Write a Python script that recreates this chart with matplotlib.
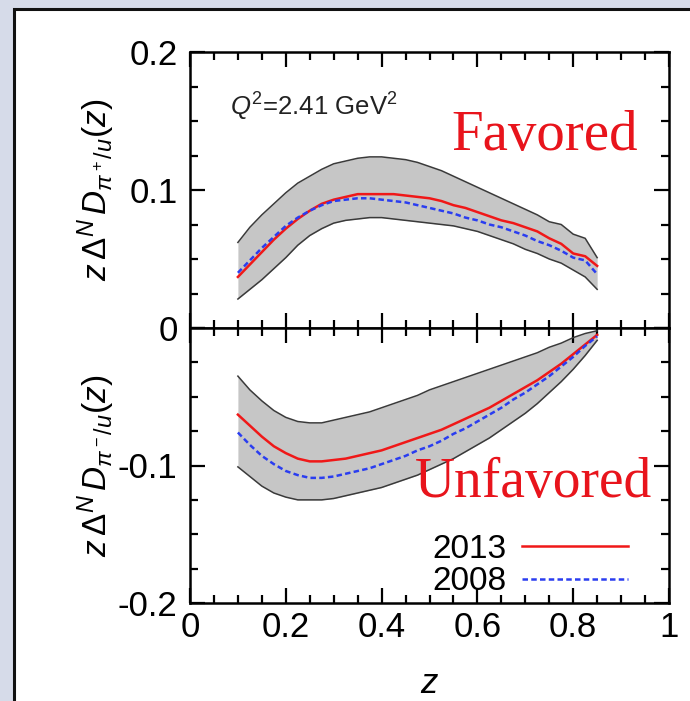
import numpy as np
import matplotlib.pyplot as plt
from matplotlib.ticker import MultipleLocator
from matplotlib.patches import Rectangle

plt.rcParams['font.family'] = ['Liberation Sans', 'DejaVu Sans']
plt.rcParams['mathtext.fontset'] = 'custom'
plt.rcParams['mathtext.rm'] = 'Liberation Sans'
plt.rcParams['mathtext.it'] = 'Liberation Sans:italic'
plt.rcParams['mathtext.bf'] = 'Liberation Sans:bold'

# ── z grid shared by all curves ──────────────────────────────────────────────
z = [0.100, 0.125, 0.150, 0.175, 0.200, 0.225, 0.250, 0.275, 0.300, 0.325,
     0.350, 0.375, 0.400, 0.425, 0.450, 0.475, 0.500, 0.525, 0.550, 0.575,
     0.600, 0.625, 0.650, 0.675, 0.700, 0.725, 0.750, 0.775, 0.800, 0.825,
     0.850]

# ── favored  z*Delta^N D_{pi+/u} ─────────────────────────────────────────────
fav_hi = [0.062, 0.073, 0.082, 0.090, 0.098, 0.105, 0.110, 0.115, 0.119, 0.121,
          0.123, 0.124, 0.124, 0.123, 0.122, 0.120, 0.117, 0.114, 0.110, 0.106,
          0.102, 0.098, 0.094, 0.090, 0.086, 0.082, 0.077, 0.075, 0.068, 0.065,
          0.051]
fav_lo = [0.021, 0.028, 0.035, 0.043, 0.051, 0.060, 0.067, 0.072, 0.076, 0.078,
          0.079, 0.080, 0.080, 0.079, 0.078, 0.077, 0.076, 0.075, 0.074, 0.072,
          0.070, 0.067, 0.064, 0.061, 0.057, 0.054, 0.050, 0.047, 0.042, 0.037,
          0.028]
fav_2013 = [0.037, 0.046, 0.055, 0.064, 0.072, 0.079, 0.085, 0.090, 0.093, 0.095,
            0.097, 0.097, 0.097, 0.097, 0.096, 0.095, 0.094, 0.092, 0.089, 0.087,
            0.084, 0.081, 0.078, 0.076, 0.073, 0.070, 0.065, 0.061, 0.054, 0.052,
            0.045]
fav_2008 = [0.040, 0.049, 0.058, 0.066, 0.074, 0.080, 0.085, 0.089, 0.092, 0.093,
            0.094, 0.094, 0.093, 0.092, 0.091, 0.089, 0.087, 0.085, 0.083, 0.080,
            0.078, 0.075, 0.073, 0.070, 0.067, 0.063, 0.060, 0.056, 0.051, 0.049,
            0.039]

# ── unfavored  z*Delta^N D_{pi-/u} ───────────────────────────────────────────
unf_hi = [-0.035, -0.045, -0.053, -0.060, -0.065, -0.068, -0.069, -0.069, -0.067, -0.065,
          -0.063, -0.061, -0.058, -0.055, -0.052, -0.049, -0.045, -0.042, -0.039, -0.036,
          -0.033, -0.030, -0.027, -0.024, -0.021, -0.018, -0.014, -0.011, -0.007, -0.004,
          -0.002]
unf_lo = [-0.101, -0.108, -0.115, -0.120, -0.123, -0.125, -0.125, -0.125, -0.124, -0.122,
          -0.120, -0.118, -0.116, -0.113, -0.110, -0.107, -0.103, -0.099, -0.095, -0.090,
          -0.085, -0.080, -0.074, -0.068, -0.062, -0.055, -0.047, -0.039, -0.030, -0.020,
          -0.009]
unf_2013 = [-0.063, -0.071, -0.079, -0.086, -0.091, -0.095, -0.097, -0.097, -0.096, -0.095,
            -0.093, -0.091, -0.089, -0.086, -0.083, -0.080, -0.077, -0.074, -0.070, -0.066,
            -0.062, -0.058, -0.053, -0.048, -0.043, -0.038, -0.032, -0.026, -0.019, -0.012,
            -0.005]
unf_2008 = [-0.076, -0.085, -0.093, -0.099, -0.104, -0.107, -0.109, -0.109, -0.108, -0.106,
            -0.104, -0.102, -0.099, -0.096, -0.093, -0.089, -0.086, -0.082, -0.077, -0.073,
            -0.068, -0.063, -0.058, -0.052, -0.047, -0.041, -0.035, -0.028, -0.021, -0.013,
            -0.006]

RED = "#f01818"
BLUE = "#2a3df0"
BAND = "#c6c6c6"
EDGE = "#3a3a3a"
TICK_FS = 25

fig = plt.figure(figsize=(6.9, 7.01), dpi=100, facecolor="#d6dbe9")
fig.patches.append(Rectangle((14 / 690, -0.02), 1.0, 1.02 - 9 / 701,
                             transform=fig.transFigure, facecolor="white",
                             edgecolor="#111111", linewidth=2.2, zorder=-10))

left, width = 190 / 690, 479 / 690
ax_top = fig.add_axes([left, 1 - 328 / 701, width, 276 / 701])
ax_bot = fig.add_axes([left, 1 - 603 / 701, width, 275 / 701])


def draw_panel(ax, hi, lo, c13, c08):
    ax.fill_between(z, lo, hi, color=BAND, linewidth=0, zorder=1)
    ax.plot(z, hi, color=EDGE, linewidth=1.1, zorder=2)
    ax.plot(z, lo, color=EDGE, linewidth=1.1, zorder=2)
    ax.plot(z, c13, color=RED, linewidth=1.8, zorder=3, label="2013")
    ax.plot(z, c08, color=BLUE, linewidth=1.8, linestyle=(0, (2.2, 1.3)),
            zorder=4, label="2008")
    ax.set_xlim(0, 1)
    ax.xaxis.set_major_locator(MultipleLocator(0.2))
    ax.xaxis.set_minor_locator(MultipleLocator(0.05))
    ax.yaxis.set_major_locator(MultipleLocator(0.1))
    ax.yaxis.set_minor_locator(MultipleLocator(0.025))
    ax.tick_params(which="both", direction="in", top=True, right=True,
                   width=1.6, labelsize=TICK_FS, pad=9)
    ax.tick_params(axis="x", pad=6)
    ax.tick_params(which="major", length=11)
    ax.tick_params(which="minor", length=6)
    for sp in ax.spines.values():
        sp.set_linewidth(1.8)
    ax.set_facecolor("white")
    ax.yaxis.set_label_coords(-0.152, 0.5)


draw_panel(ax_top, fav_hi, fav_lo, fav_2013, fav_2008)
draw_panel(ax_bot, unf_hi, unf_lo, unf_2013, unf_2008)

ax_top.set_ylim(0, 0.2)
ax_top.set_yticks([0, 0.1, 0.2])
ax_top.set_yticklabels(["0", "0.1", "0.2"])
ax_top.tick_params(axis="x", labelbottom=False)

ax_bot.set_ylim(-0.2, 0)
ax_bot.set_yticks([-0.2, -0.1, 0])
ax_bot.set_yticklabels(["-0.2", "-0.1", ""])
ax_bot.set_xticks([0, 0.2, 0.4, 0.6, 0.8, 1.0])
ax_bot.set_xticklabels(["0", "0.2", "0.4", "0.6", "0.8", "1"])

ax_top.set_ylabel(r"$z\,\Delta^N\,D_{\pi^+/u}(z)$", fontsize=24)
ax_bot.set_ylabel(r"$z\,\Delta^N\,D_{\pi^-/u}(z)$", fontsize=24)
ax_bot.set_xlabel(r"$z$", fontsize=25, labelpad=16)

ax_top.text(0.083, 0.80, r"$Q^2$=2.41 GeV$^2$", transform=ax_top.transAxes,
            fontsize=18.5, color="#222222", va="center")
ax_top.text(0.935, 0.645, "Favored", transform=ax_top.transAxes,
            fontsize=41, color="#e8141c", family="Liberation Serif",
            ha="right", va="baseline")
ax_bot.text(0.965, 0.385, "Unfavored", transform=ax_bot.transAxes,
            fontsize=40, color="#e8141c", family="Liberation Serif",
            ha="right", va="baseline")

ax_bot.legend(loc="lower right", bbox_to_anchor=(0.915, 0.02), frameon=False,
              markerfirst=False, fontsize=24, handlelength=3.2,
              handletextpad=0.45, labelspacing=0.05, borderaxespad=0.0,
              borderpad=0.0)

fig.savefig("out.png", dpi=100, facecolor=fig.get_facecolor())
